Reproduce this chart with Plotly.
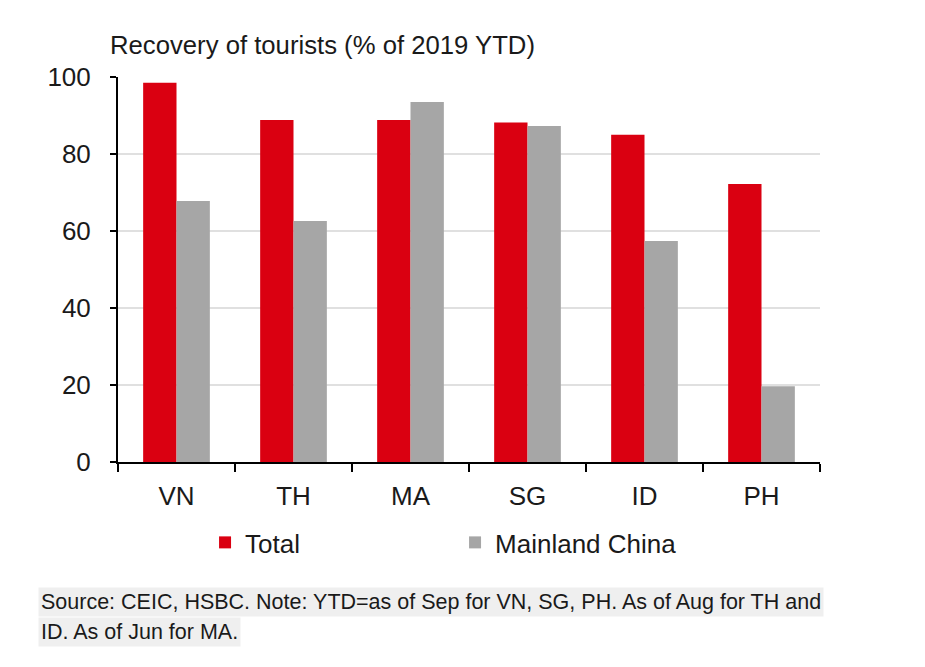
import plotly.graph_objects as go

categories = ["VN", "TH", "MA", "SG", "ID", "PH"]
total = [98.5, 88.8, 88.8, 88.2, 85.0, 72.2]
mainland_china = [67.8, 62.6, 93.5, 87.3, 57.4, 19.7]
y_ticks = [0, 20, 40, 60, 80, 100]

FONT = "Liberation Sans Narrow, Arial Narrow, Liberation Sans, Arial, sans-serif"

fig = go.Figure()
fig.add_trace(go.Bar(name="Total", x=categories, y=total, marker_color="#DA0011",
                     marker_line_width=0))
fig.add_trace(go.Bar(name="Mainland China", x=categories, y=mainland_china,
                     marker_color="#A6A6A6", marker_line_width=0))

fig.update_layout(
    width=925, height=667,
    margin=dict(l=110, r=113, t=69, b=213),
    plot_bgcolor="white", paper_bgcolor="white",
    barmode="group", bargap=0.43, bargroupgap=0,
    font=dict(family=FONT, size=26, color="#1a1a1a"),
    showlegend=True,
    legend=dict(orientation="h", x=0.124, y=-0.148, xanchor="left", yanchor="top",
                font=dict(size=26), entrywidth=205, traceorder="normal",
                itemwidth=30),
    annotations=[
        dict(text="Recovery of tourists (% of 2019 YTD)", xref="paper", yref="paper",
             x=-0.014, y=1.083, xanchor="left", yanchor="middle", showarrow=False,
             font=dict(size=25.7)),
        dict(text="Source: CEIC, HSBC. Note: YTD=as of Sep for VN, SG, PH. As of Aug for TH and",
             xref="paper", yref="paper", x=-0.114, y=-0.364, xanchor="left", yanchor="middle",
             showarrow=False, bgcolor="#EFEFEF", font=dict(size=21.5), borderpad=2),
        dict(text="ID. As of Jun for MA.",
             xref="paper", yref="paper", x=-0.114, y=-0.442, xanchor="left", yanchor="middle",
             showarrow=False, bgcolor="#EFEFEF", font=dict(size=21.5), borderpad=2),
    ],
)
fig.update_yaxes(range=[0, 100], tickvals=y_ticks, showgrid=True, gridcolor="#E0E0E0",
                 gridwidth=2, showline=True, linecolor="black", linewidth=2,
                 ticks="outside", ticklen=6, tickwidth=2, tickcolor="black",
                 zeroline=False, ticklabelstandoff=14)
fig.update_xaxes(showline=True, linecolor="black", linewidth=2, ticks="outside",
                 tickson="boundaries", ticklen=8, tickwidth=2, tickcolor="black",
                 ticklabelstandoff=10)

fig.write_html("out.html")
